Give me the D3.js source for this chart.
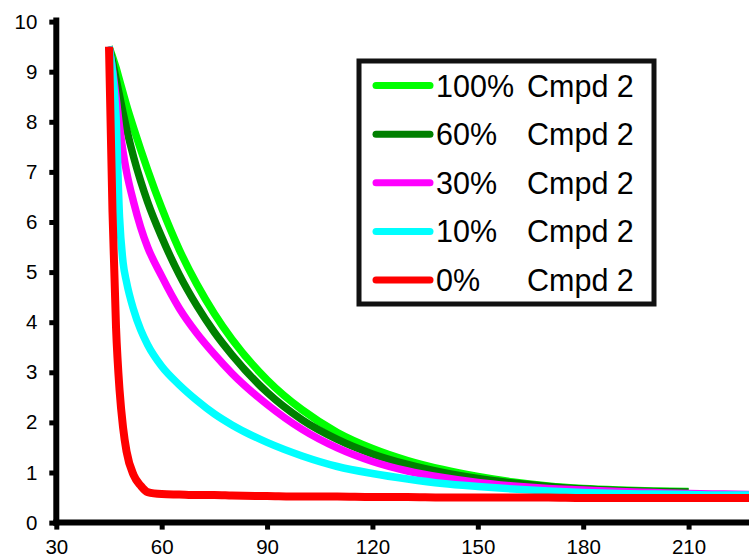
<!DOCTYPE html>
<html>
<head>
<meta charset="utf-8">
<script src="https://cdn.jsdelivr.net/npm/d3@7"></script>
<style>
  html, body { margin: 0; padding: 0; background: #fff; }
  svg { display: block; }
  text { font-family: "Liberation Sans", Arial, sans-serif; fill: #000; }
</style>
</head>
<body>
<svg id="chart" width="749" height="558"></svg>
<script>
// Time points shared by every series
const xValues = [45, 46, 47, 48, 49, 50, 52, 54, 56, 60, 65, 70, 75, 80, 90, 100, 110, 120, 130, 140, 150, 160, 170, 180, 190, 200, 210, 220, 230];

// Response for each Cmpd 2 fraction (null = no reading)
const cmpd100 = [9.5, 9.3, 9.08, 8.83, 8.58, 8.33, 7.88, 7.45, 7.04, 6.28, 5.45, 4.76, 4.17, 3.66, 2.85, 2.25, 1.8, 1.48, 1.24, 1.06, 0.92, 0.81, 0.73, 0.68, 0.65, 0.63, 0.62, null, null];
const cmpd60  = [9.5, 9.2, 8.86, 8.52, 8.18, 7.86, 7.3, 6.82, 6.4, 5.7, 4.95, 4.33, 3.8, 3.35, 2.6, 2.05, 1.66, 1.37, 1.16, 1.0, 0.88, 0.79, 0.72, 0.67, 0.64, 0.62, 0.61, null, null];
const cmpd30  = [9.5, 9.05, 8.5, 7.9, 7.4, 7.0, 6.4, 5.9, 5.5, 4.92, 4.28, 3.78, 3.36, 2.98, 2.36, 1.86, 1.49, 1.22, 1.03, 0.9, 0.8, 0.73, 0.68, 0.65, 0.62, 0.6, 0.58, 0.57, 0.56];
const cmpd10  = [9.5, 9.0, 8.1, 6.1, 5.2, 4.8, 4.25, 3.85, 3.55, 3.12, 2.75, 2.44, 2.17, 1.95, 1.6, 1.33, 1.12, 0.98, 0.87, 0.78, 0.72, 0.67, 0.63, 0.6, 0.58, 0.57, 0.56, 0.55, 0.55];
const cmpd0   = [9.5, 6.2, 3.9, 2.65, 1.9, 1.42, 0.95, 0.74, 0.61, 0.57, 0.56, 0.55, 0.55, 0.54, 0.53, 0.52, 0.52, 0.51, 0.51, 0.5, 0.5, 0.5, 0.5, 0.49, 0.49, 0.49, 0.49, 0.49, 0.49];

const seriesNames  = ["100%", "60%", "30%", "10%", "0%"];
const seriesLabel  = "Cmpd 2";
const seriesColors = ["#00ff00", "#008000", "#ff00ff", "#00ffff", "#ff0000"];
const seriesValues = [cmpd100, cmpd60, cmpd30, cmpd10, cmpd0];

const xTicks = [30, 60, 90, 120, 150, 180, 210];
const yTicks = [0, 1, 2, 3, 4, 5, 6, 7, 8, 9, 10];

const svg = d3.select("#chart");

const x = d3.scaleLinear().domain([30, 227.2]).range([56.3, 749]);
const y = d3.scaleLinear().domain([0, 10]).range([522.6, 21.6]);

// Curves (drawn first so the axes sit on top of them)
const line = d3.line()
  .defined(d => d[1] !== null)
  .x(d => x(d[0]))
  .y(d => y(d[1]))
  .curve(d3.curveMonotoneX);

const plot = svg.append("g");
seriesValues.forEach((vals, i) => {
  const pts = xValues.map((xv, j) => [xv, vals[j]]);
  plot.append("path")
    .attr("d", line(pts))
    .attr("fill", "none")
    .attr("stroke", seriesColors[i])
    .attr("stroke-width", i === 4 ? 8 : 7.5)
    .attr("stroke-linejoin", "round")
    .attr("stroke-linecap", "butt");
});

// Axes
const xAxis = d3.axisBottom(x).tickValues(xTicks).tickSize(7).tickSizeOuter(0).tickPadding(10);
const yAxis = d3.axisLeft(y).tickValues(yTicks).tickSize(7).tickSizeOuter(0).tickPadding(12);

const gx = svg.append("g").attr("transform", `translate(0,${y(0)})`).call(xAxis);
const gy = svg.append("g").attr("transform", `translate(${x(30)},0)`).call(yAxis);

[gx, gy].forEach(g => {
  g.select(".domain").attr("stroke", "#000").attr("stroke-width", 6);
  g.selectAll(".tick line").attr("stroke", "#000").attr("stroke-width", 5);
  g.selectAll(".tick text")
    .attr("font-family", "Liberation Sans, Arial, sans-serif")
    .attr("font-size", 20.5)
    .attr("fill", "#111");
});
// axis lines meet in a square corner
gx.select(".domain").attr("d", `M${x(30) - 3},0H749`);
gy.select(".domain").attr("d", `M0,${y(10) - 4}V${y(0) + 3}`);

// Legend
const legend = svg.append("g");
legend.append("rect")
  .attr("x", 359).attr("y", 61)
  .attr("width", 295).attr("height", 243)
  .attr("fill", "#fff")
  .attr("stroke", "#111")
  .attr("stroke-width", 5);

const rowY = d3.scaleLinear().domain([0, 4]).range([85.5, 280]);
seriesNames.forEach((name, i) => {
  const cy = rowY(i);
  legend.append("line")
    .attr("x1", 376).attr("x2", 430)
    .attr("y1", cy).attr("y2", cy)
    .attr("stroke", seriesColors[i])
    .attr("stroke-width", 7)
    .attr("stroke-linecap", "round");
  legend.append("text")
    .attr("x", 436).attr("y", cy + 11)
    .attr("font-size", 30.5)
    .text(name);
  legend.append("text")
    .attr("x", 527).attr("y", cy + 11)
    .attr("font-size", 30.5)
    .text(seriesLabel);
});
</script>
</body>
</html>
